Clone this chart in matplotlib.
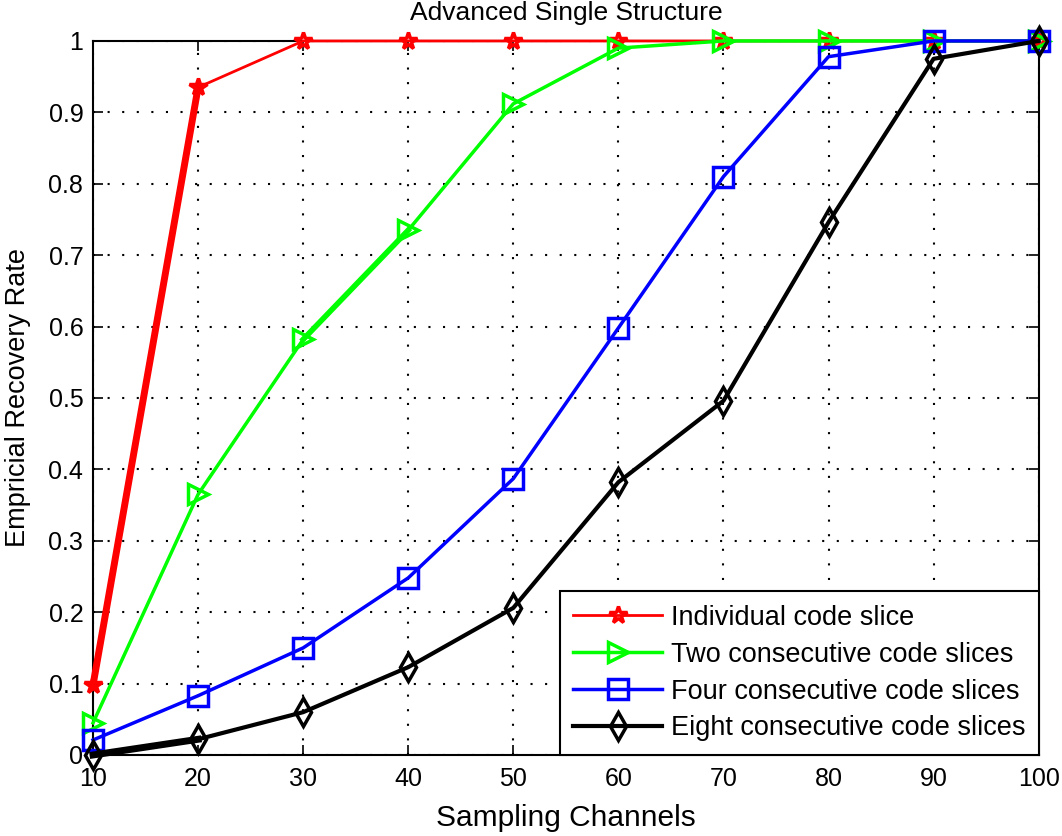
import matplotlib
matplotlib.use("Agg")
import matplotlib.pyplot as plt

plt.rcParams['font.family'] = ['Liberation Sans', 'DejaVu Sans']

x = [10, 20, 30, 40, 50, 60, 70, 80, 90, 100]
individual = [0.098, 0.935, 1.0, 1.0, 1.0, 1.0, 1.0, 1.0, 1.0, 1.0]
two = [0.045, 0.365, 0.582, 0.735, 0.912, 0.99, 1.0, 1.0, 1.0, 1.0]
four = [0.021, 0.083, 0.150, 0.248, 0.387, 0.598, 0.810, 0.978, 1.0, 1.0]
eight = [0.0, 0.022, 0.060, 0.123, 0.206, 0.382, 0.496, 0.746, 0.975, 1.0]
labels = ["Individual code slice", "Two consecutive code slices",
          "Four consecutive code slices", "Eight consecutive code slices"]
xticks = [10, 20, 30, 40, 50, 60, 70, 80, 90, 100]
yticks = [0, 0.1, 0.2, 0.3, 0.4, 0.5, 0.6, 0.7, 0.8, 0.9, 1.0]
yticklabels = ["0", "0.1", "0.2", "0.3", "0.4", "0.5", "0.6", "0.7", "0.8", "0.9", "1"]

fig = plt.figure(figsize=(10.62, 8.36), dpi=100)
ax = fig.add_axes([0.0876, 0.0969, 0.978 - 0.0876, 0.951 - 0.0969])

# heavier overlapping first segments, as in the original
ax.plot(x[:2], individual[:2], color='#ff0000', lw=5, clip_on=False, zorder=3)
ax.plot(x[:2], eight[:2], color='#000000', lw=5, clip_on=False, zorder=6)
ax.plot(x[2:4], two[2:4], color='#00ff00', lw=4, clip_on=False, zorder=4)

ax.plot(x, individual, color='#ff0000', lw=2, marker='*', ms=13, mfc='none', mew=2.5,
        label=labels[0], clip_on=False, zorder=3)
ax.plot(x, two, color='#00ff00', lw=2.5, marker='>', ms=14, mfc='none', mew=2.5,
        label=labels[1], clip_on=False, zorder=4)
ax.plot(x, four, color='#0000ff', lw=2.5, marker='s', ms=14, mfc='none', mew=2.5,
        label=labels[2], clip_on=False, zorder=5)
ax.plot(x, eight, color='#000000', lw=3, marker='d', ms=14, mfc='none', mew=2.5,
        label=labels[3], clip_on=False, zorder=6)

ax.set_xlim(10, 100)
ax.set_ylim(0, 1)
ax.set_xticks(xticks)
ax.set_yticks(yticks)
ax.set_yticklabels(yticklabels)
ax.tick_params(direction='in', top=True, right=True, length=7, width=1.2,
               labelsize=18)
ax.tick_params(axis='x', pad=9)
ax.tick_params(axis='y', pad=7)
ax.grid(True, color='black', linestyle=(0, (1, 6)), linewidth=1.5)
for s in ax.spines.values():
    s.set_linewidth(1.5)
    s.set_zorder(2.5)

ax.set_title("Advanced Single Structure", fontsize=19, y=1.030, pad=0)
ax.set_xlabel("Sampling Channels", fontsize=21.5)
ax.set_ylabel("Empricial Recovery Rate", fontsize=19.5)
ax.xaxis.set_label_coords(0.5, -0.068)
ax.yaxis.set_label_coords(-0.0655, 0.5)

leg = ax.legend(loc='lower right', fontsize=19.5, frameon=True, fancybox=False,
                edgecolor='black', framealpha=1, borderaxespad=0,
                handlelength=3.3, handletextpad=0.3, labelspacing=0.4,
                borderpad=0.5)
leg.get_frame().set_linewidth(1.5)
leg.set_zorder(10)

fig.savefig("out.png", dpi=100)
